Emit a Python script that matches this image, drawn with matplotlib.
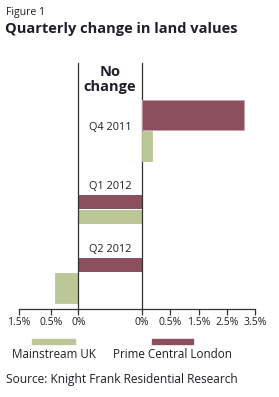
import matplotlib
matplotlib.use("Agg")
import matplotlib.pyplot as plt
from matplotlib.patches import Rectangle
import numpy as np

plt.rcParams['font.family'] = ['Open Sans', 'DejaVu Sans']

# data (quarterly % change in land values)
quarters = ["Q4 2011", "Q1 2012", "Q2 2012"]
series_names = ["Prime Central London", "Mainstream UK"]
pcl = [3.1, 0.0, 0.0]
mainstream = [0.17, 0.0, -0.42]

neg_ticks = [-1.5, -0.5, 0.0]
neg_labels = ["1.5%", "0.5%", "0%"]
pos_ticks = [0.0, 0.5, 1.5, 2.5, 3.5]
pos_labels = ["0%", "0.5%", "1.5%", "2.5%", "3.5%"]

PCL_COLOR = "#8b4f5d"
MAIN_COLOR = "#bbc797"
TEXT = "#1f1f2b"
LINE = "#333333"

W, H = 279, 397
fig = plt.figure(figsize=(W / 100, H / 100), dpi=100)


def px_axes(x0, x1, y0, y1):
    # pixel box (top-left origin) -> figure fraction axes
    return fig.add_axes([x0 / W, (H - y1) / H, (x1 - x0) / W, (y1 - y0) / H])


# tick spacing on the printed scales is uneven, so map through the tick grid
neg_pos = [-2.1, -0.975, 0.0]
pos_pos = [0.0, 1.0, 2.0, 3.0, 4.0]


def make_scale(vals, poss):
    fwd = lambda v: np.interp(v, vals, poss)
    inv = lambda p: np.interp(p, poss, vals)
    return fwd, inv


top, base = 63, 309
ax_neg = px_axes(19, 78.3, top, base)
ax_mid = px_axes(78.3, 142, top, base)
ax_pos = px_axes(142, 255.3, top, base)

ax_neg.set_xscale("function", functions=make_scale(neg_ticks, neg_pos))
ax_pos.set_xscale("function", functions=make_scale(pos_ticks, pos_pos))
ax_neg.set_xlim(-1.5, 0)
ax_pos.set_xlim(0, 3.5)
ax_mid.set_xlim(0, 1)
for ax in (ax_neg, ax_mid, ax_pos):
    ax.set_ylim(base, top)
    ax.set_facecolor("none")
    for s in ax.spines.values():
        s.set_visible(False)
    ax.spines["bottom"].set_visible(True)
    ax.spines["bottom"].set_color(LINE)
    ax.spines["bottom"].set_linewidth(0.9)
    ax.set_yticks([])
for s in ("left", "right"):
    ax_mid.spines[s].set_visible(True)
    ax_mid.spines[s].set_color(LINE)
    ax_mid.spines[s].set_linewidth(0.9)
ax_mid.set_xticks([])

for ax, ticks, labels in ((ax_neg, neg_ticks, neg_labels), (ax_pos, pos_ticks, pos_labels)):
    ax.set_xticks(ticks)
    ax.set_xticklabels(labels)
    ax.tick_params(axis="x", direction="out", length=4, width=0.9, color=LINE,
                   labelsize=7.5, labelcolor=TEXT, pad=1.5)
    ax.minorticks_off()

# bars: zero values sit in the "No change" column and are drawn thinner
group_top = [100, 195, 258]
THICK, THIN, GAP = 30, 14, 1.5


def draw_bar(val, y, h, color, edge):
    if val > 0:
        ax_pos.barh(y, val, height=h, align="edge", color=color, edgecolor=edge, linewidth=0.6)
    elif val < 0:
        ax_neg.barh(y, val, height=h, align="edge", color=color, edgecolor=edge, linewidth=0.6)
    else:
        ax_mid.barh(y, 1, height=h, align="edge", color=color, linewidth=0)


for i, q in enumerate(quarters):
    y = group_top[i]
    h1 = THICK if pcl[i] != 0 else THIN
    draw_bar(pcl[i], y, h1, PCL_COLOR, "#c9a3ab")
    y2 = y + h1 + GAP
    h2 = THICK if mainstream[i] != 0 else THIN
    draw_bar(mainstream[i], y2, h2, MAIN_COLOR, MAIN_COLOR)
    if pcl[i] != 0 and mainstream[i] != 0:
        ly = (y + y2 + h2) / 2 - 3
    else:
        ly = y - 8.5
    ax_mid.text(0.5, ly, q, ha="center", va="center", fontsize=7.8, color=TEXT)

ax_mid.text(0.5, 72, "No", ha="center", va="center", fontsize=10.5,
            fontweight="bold", color=TEXT)
ax_mid.text(0.5, 87, "change", ha="center", va="center", fontsize=10.5,
            fontweight="bold", color=TEXT)

# header
fig.text(6 / W, 1 - 12 / H, "Figure 1", ha="left", va="center", fontsize=7.6, color=TEXT)
fig.text(5 / W, 1 - 29 / H, "Quarterly change in land values", ha="left", va="center",
         fontsize=10.5, fontweight="bold", color=TEXT)

# legend
fig.add_artist(Rectangle((32 / W, 1 - 344 / H), 43 / W, 5 / H,
                         transform=fig.transFigure, color=MAIN_COLOR))
fig.add_artist(Rectangle((152 / W, 1 - 344 / H), 41 / W, 5 / H,
                         transform=fig.transFigure, color=PCL_COLOR))
fig.text(12 / W, 1 - 354 / H, series_names[1], ha="left", va="center", fontsize=8.4, color=TEXT)
fig.text(113 / W, 1 - 354 / H, series_names[0], ha="left", va="center", fontsize=8.4, color=TEXT)

fig.text(6 / W, 1 - 380 / H, "Source: Knight Frank Residential Research", ha="left",
         va="center", fontsize=8.6, color=TEXT)

fig.savefig("out.png", dpi=100)
